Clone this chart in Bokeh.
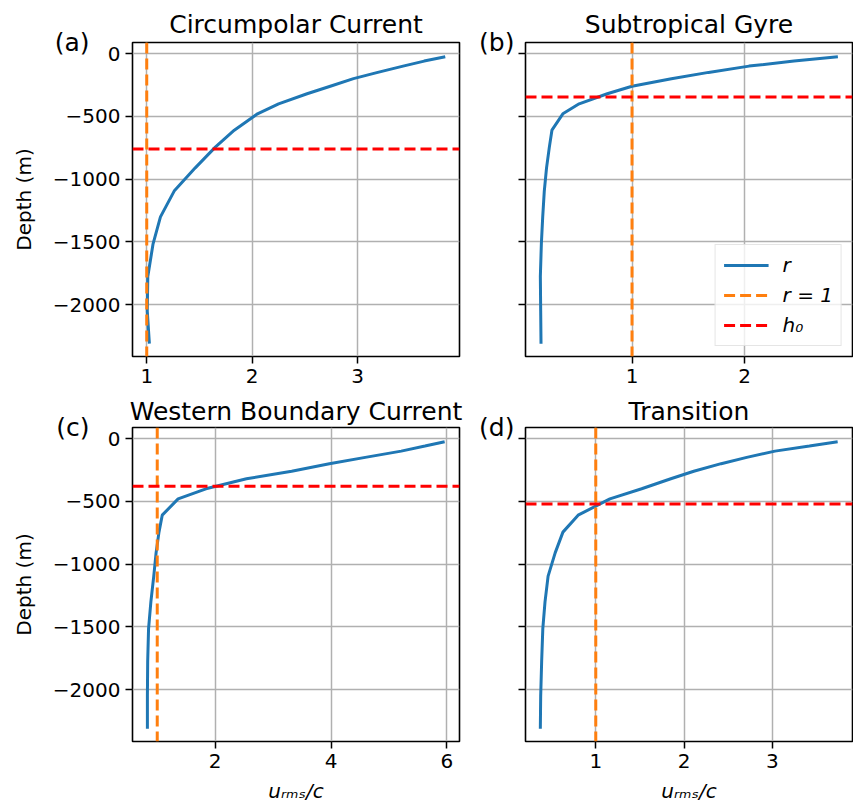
from bokeh.plotting import figure
from bokeh.layouts import column, row
from bokeh.models import (Range1d, FixedTicker, Span, Legend, LegendItem,
                          CustomJSTickFormatter, LinearAxis)
from bokeh.embed import file_html
from bokeh.resources import INLINE

# ---- data ----
depth = [-25, -60, -100, -150, -200, -260, -320, -400, -480, -610, -745, -910,
         -1095, -1300, -1515, -1775, -2050, -2310]

r_circumpolar = [3.83, 3.63, 3.43, 3.19, 2.96, 2.74, 2.52, 2.25, 2.05, 1.83, 1.65, 1.46,
                 1.26, 1.13, 1.06, 1.01, 1.005, 1.025]
r_subtropical = [2.83, 2.44, 2.04, 1.68, 1.35, 1.0, 0.78, 0.53, 0.385, 0.288, 0.265, 0.24,
                 0.22, 0.206, 0.194, 0.185, 0.188, 0.191]
r_western = [5.96, 5.62, 5.21, 4.59, 3.97, 3.32, 2.54, 1.84, 1.36, 1.086, 1.03, 0.98,
             0.94, 0.89, 0.85, 0.835, 0.83, 0.83]
r_transition = [3.74, 3.42, 3.03, 2.71, 2.42, 2.11, 1.85, 1.52, 1.16, 0.80, 0.628, 0.54,
                0.46, 0.425, 0.40, 0.387, 0.376, 0.372]

h0 = [-760, -345, -379, -522]
r_one = 1.0

titles = ["Circumpolar Current", "Subtropical Gyre", "Western Boundary Current", "Transition"]
panel_labels = ["(a)", "(b)", "(c)", "(d)"]

x_ranges = [(0.865, 3.965), (0.053, 2.96), (0.573, 6.216), (0.204, 3.908)]
y_range = (-2412, 88)

x_ticks = [[1, 2, 3], [1, 2], [2, 4, 6], [1, 2, 3]]
y_ticks = [0, -500, -1000, -1500, -2000]
y_tick_labels = ["0", "\u2212500", "\u22121000", "\u22121500", "\u22122000"]

series = [r_circumpolar, r_subtropical, r_western, r_transition]

BLUE = "#1f77b4"
ORANGE = "#ff7f0e"
RED = "#ff0000"
FONT = "DejaVu Sans"
TICK_FS = "20px"
TITLE_PX = 25
TITLE_FS = f"{TITLE_PX}px"

FW, FH = 327, 314
LEFT_B = 132


def make_panel(i, left_col, bottom_row):
    p = figure(
        x_range=Range1d(*x_ranges[i]), y_range=Range1d(*y_range),
        frame_width=FW, frame_height=FH,
        output_backend="svg", toolbar_location=None,
        min_border_left=LEFT_B if left_col else 56,
        min_border_right=10 if left_col else 1,
        min_border_top=0 if bottom_row else 42,
        min_border_bottom=0 if bottom_row else 37,
        title=titles[i],
    )
    p.title.align = "center"
    p.title.text_font = FONT
    p.title.text_font_size = TITLE_FS
    p.title.text_font_style = "normal"
    p.title.text_color = "black"
    p.title.standoff = 3 if bottom_row else 8

    p.outline_line_color = "black"
    p.outline_line_width = 1.6
    p.outline_line_alpha = 1.0
    p.background_fill_color = "white"
    p.border_fill_color = "white"

    for ax in (p.xaxis[0], p.yaxis[0]):
        ax.axis_line_color = None
        ax.major_tick_out = 7
        ax.major_tick_in = 0
        ax.major_tick_line_color = "black"
        ax.major_tick_line_width = 1.5
        ax.minor_tick_line_color = None
        ax.major_label_text_font = FONT
        ax.major_label_text_font_size = TICK_FS
        ax.major_label_text_color = "black"
        ax.major_label_standoff = 5
        ax.axis_label_text_color = "black"

    p.xaxis.ticker = FixedTicker(ticks=x_ticks[i])
    p.xaxis.major_label_overrides = {t: str(t) for t in x_ticks[i]}
    p.yaxis.ticker = FixedTicker(ticks=y_ticks)
    if left_col:
        p.yaxis.major_label_overrides = dict(zip(y_ticks, y_tick_labels))
        p.yaxis.axis_label = "Depth (m)"
        p.yaxis.axis_label_text_font = FONT
        p.yaxis.axis_label_text_font_size = TICK_FS
        p.yaxis.axis_label_text_font_style = "normal"
        p.yaxis.axis_label_standoff = 14
    else:
        p.yaxis.formatter = CustomJSTickFormatter(code="return ''")

    # panel letter: single label of an extra, tick-less axis at the frame top
    top = y_range[1]
    lab_ax = LinearAxis(ticker=FixedTicker(ticks=[top]),
                        major_label_overrides={top: panel_labels[i]})
    lab_ax.axis_line_color = None
    lab_ax.major_tick_line_color = None
    lab_ax.minor_tick_line_color = None
    lab_ax.major_tick_out = 0
    lab_ax.major_tick_in = 0
    lab_ax.major_label_text_font = FONT
    lab_ax.major_label_text_font_size = TITLE_FS
    lab_ax.major_label_text_color = "black"
    ok = True
    try:
        lab_ax.major_label_standoff = -81 if left_col else 4
    except Exception:
        ok = False
    if ok or not left_col:
        if not ok:
            lab_ax.major_label_standoff = 4
        p.add_layout(lab_ax, "left")
    else:
        p.title.text = panel_labels[i] + "\u2003\u2003" + titles[i]

    if bottom_row:
        p.xaxis.axis_label = "u\u1d63\u2098\u209b/c"
        p.xaxis.axis_label_text_font = FONT
        p.xaxis.axis_label_text_font_size = TICK_FS
        p.xaxis.axis_label_text_font_style = "italic"
        p.xaxis.axis_label_standoff = 8

    p.grid.grid_line_color = "#b0b0b0"
    p.grid.grid_line_width = 1.5

    line_r = p.line(series[i], depth, line_color=BLUE, line_width=3)
    p.add_layout(Span(location=r_one, dimension="height", line_color=ORANGE,
                      line_width=3, line_dash="11 5"))
    p.add_layout(Span(location=h0[i], dimension="width", line_color=RED,
                      line_width=3, line_dash="11 5"))

    if i == 1:
        nan = float("nan")
        leg_o = p.line([nan], [nan], line_color=ORANGE, line_width=3, line_dash="11 5")
        leg_h = p.line([nan], [nan], line_color=RED, line_width=3, line_dash="11 5")
        legend = Legend(items=[
            LegendItem(label="r", renderers=[line_r]),
            LegendItem(label="r = 1", renderers=[leg_o]),
            LegendItem(label="h\u2080", renderers=[leg_h]),
        ], location="bottom_right")
        legend.label_text_font = FONT
        legend.label_text_font_size = TICK_FS
        legend.label_text_font_style = "italic"
        legend.label_text_color = "black"
        legend.glyph_width = 45
        legend.glyph_height = 24
        legend.label_height = 24
        legend.spacing = 6
        legend.padding = 8
        legend.margin = 10
        legend.label_standoff = 14
        legend.border_line_color = "#cccccc"
        legend.border_line_width = 1.5
        legend.background_fill_alpha = 0.8
        p.add_layout(legend)
    return p


pa = make_panel(0, True, False)
pb = make_panel(1, False, False)
pc = make_panel(2, True, True)
pd_ = make_panel(3, False, True)

layout = column(row(pa, pb), row(pc, pd_))

open("out.html", "w").write(file_html(layout, INLINE))
